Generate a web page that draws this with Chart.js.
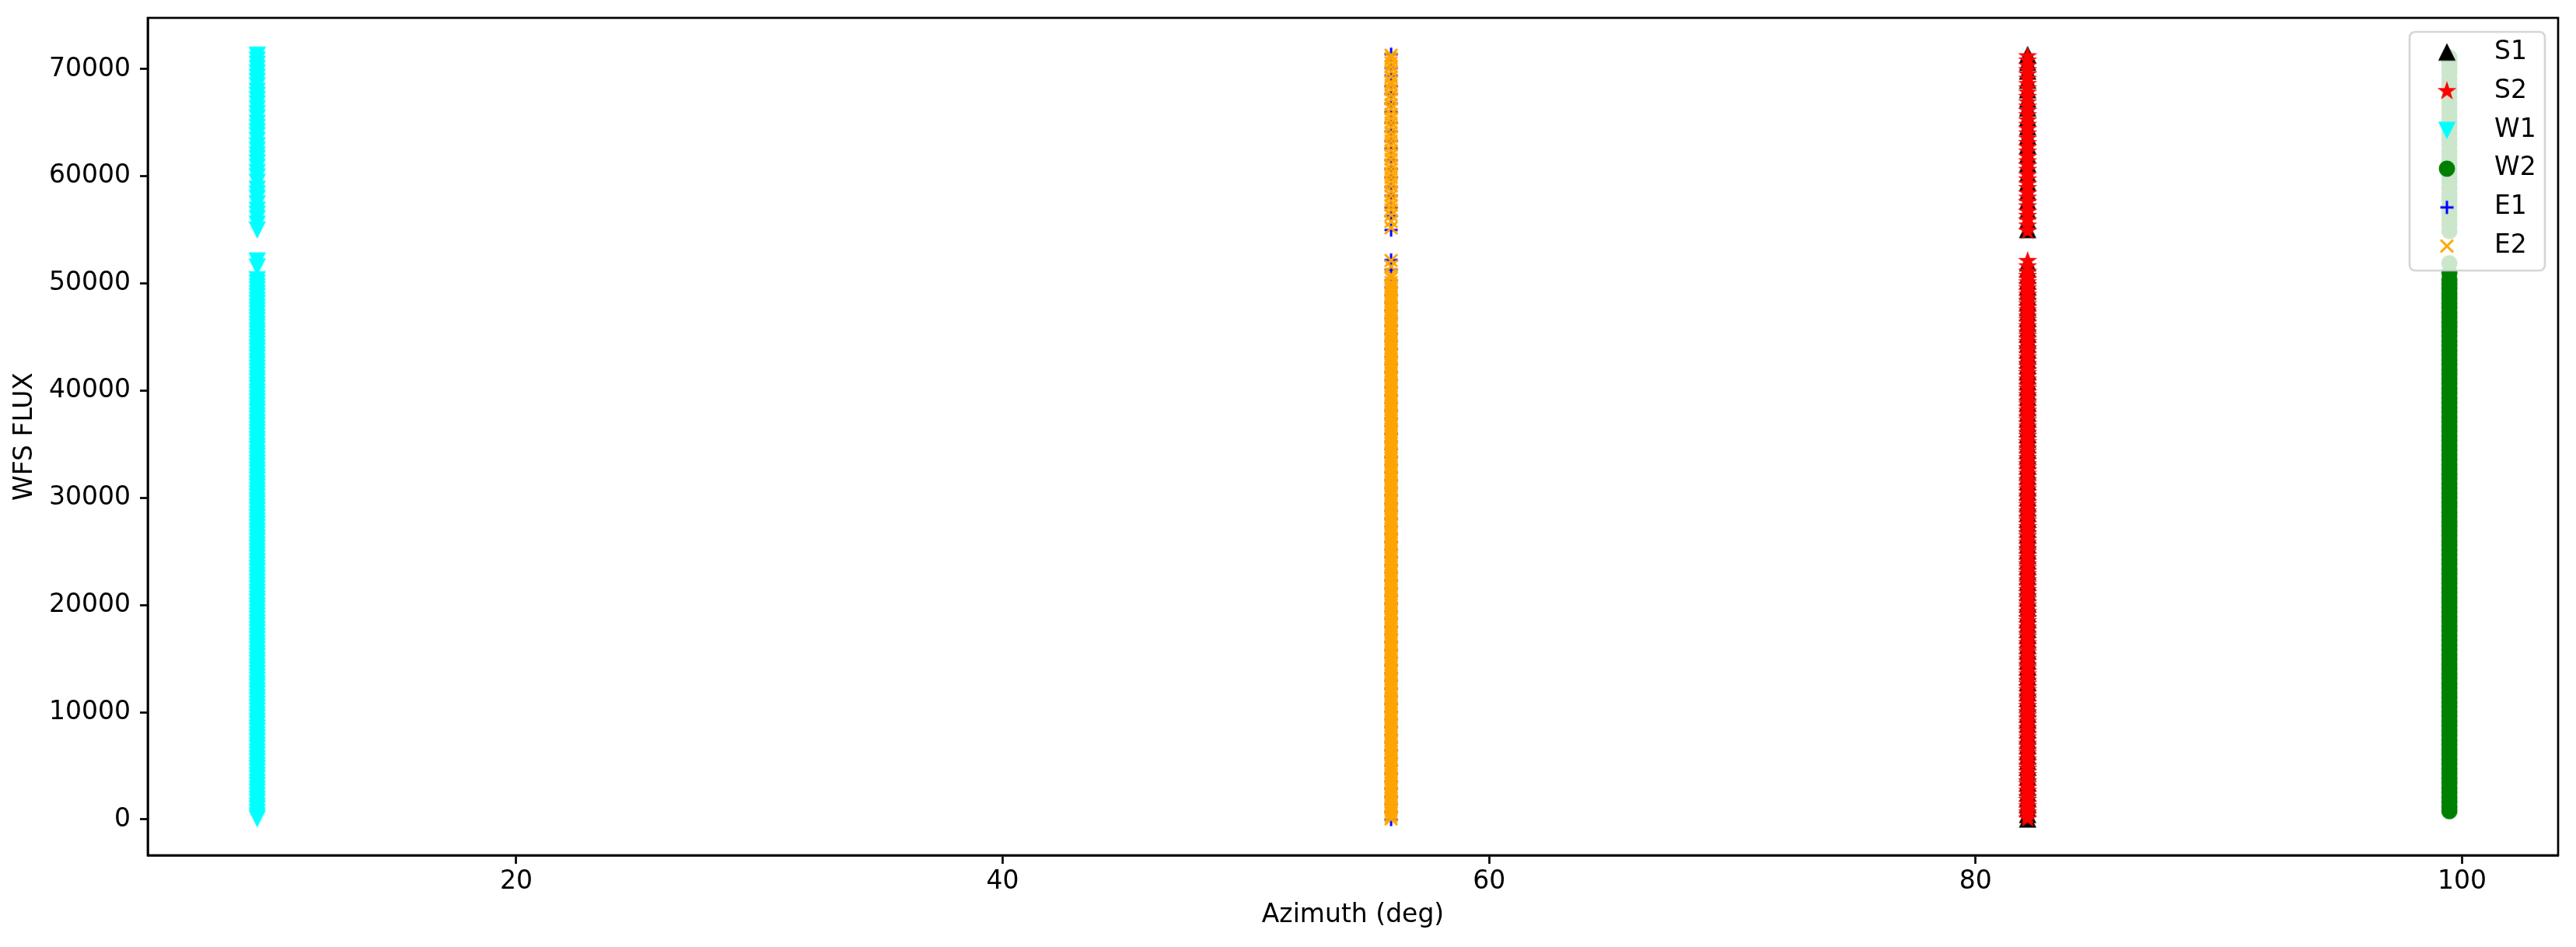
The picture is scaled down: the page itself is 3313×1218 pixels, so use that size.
<!DOCTYPE html>
<html>
<head>
<meta charset="utf-8">
<script src="https://cdn.jsdelivr.net/npm/chart.js@4.4.1/dist/chart.umd.min.js"></script>
<style>
  html, body { margin: 0; padding: 0; background: #ffffff; }
</style>
</head>
<body>
<canvas id="fluxChart" width="3313" height="1218"></canvas>
<script>
// series, in the order they were plotted (last one ends up on top)
var seriesNames = ["S1", "S2", "W1", "W2", "E1", "E2"];
var seriesColors = ["#000000", "#ff0000", "#00ffff", "#008000", "#0000ff", "#ffa500"];
var seriesShapes = ["triangleUp", "star", "triangleDown", "circle", "plus", "cross"];
// azimuth (deg) of each wavefront sensor
var seriesAzimuth = [82.14, 82.14, 9.35, 99.48, 55.97, 55.97];

// WFS flux readings
var fluxS1 = [0, 430, 980, 1420, 1960, 2410, 2930, 3390, 3920, 4380, 4870, 5360, 5860, 6340, 6850, 7320, 7840,
  8310, 8820, 9300, 9810, 10280, 10790, 11270, 11780, 12250, 12760, 13240, 13750, 14220, 14730, 15210, 15720,
  16190, 16700, 17180, 17690, 18160, 18670, 19150, 19660, 20130, 20640, 21120, 21630, 22100, 22610, 23090,
  23600, 24070, 24580, 25060, 25570, 26040, 26550, 27030, 27540, 28010, 28520, 29000, 29510, 29980, 30490,
  30970, 31480, 31950, 32460, 32940, 33450, 33920, 34430, 34910, 35420, 35890, 36400, 36880, 37390, 37860,
  38370, 38850, 39360, 39830, 40340, 40820, 41330, 41800, 42310, 42790, 43300, 43770, 44280, 44760, 45270,
  45740, 46250, 46730, 47240, 47710, 48220, 48700, 49210, 49680, 50190, 50700, 51300, 51900,
  55000, 55820, 56760, 57640, 58490, 59380, 60210, 61130, 61960, 62840, 63710, 64580, 65420, 66330, 67160,
  68040, 68930, 69780, 70600, 71300];
var fluxS2 = [80, 360, 650, 910, 1230, 1500, 1810, 2090, 2390, 2680, 2960, 3280, 3550, 3860, 4140, 4440, 4730,
  5010, 5330, 5600, 5910, 6190, 6490, 6780, 7060, 7380, 7650, 7960, 8240, 8540, 8830, 9110, 9430, 9700, 10010,
  10290, 10590, 10880, 11160, 11480, 11750, 12060, 12340, 12640, 12930, 13210, 13530, 13800, 14110, 14390,
  14690, 14980, 15260, 15580, 15850, 16160, 16440, 16740, 17030, 17310, 17630, 17900, 18210, 18490, 18790,
  19080, 19360, 19680, 19950, 20260, 20540, 20840, 21130, 21410, 21730, 22000, 22310, 22590, 22890, 23180,
  23460, 23780, 24050, 24360, 24640, 24940, 25230, 25510, 25830, 26100, 26410, 26690, 26990, 27280, 27560,
  27880, 28150, 28460, 28740, 29040, 29330, 29610, 29930, 30200, 30510, 30790, 31090, 31380, 31660, 31980,
  32250, 32560, 32840, 33140, 33430, 33710, 34030, 34300, 34610, 34890, 35190, 35480, 35760, 36080, 36350,
  36660, 36940, 37240, 37530, 37810, 38130, 38400, 38710, 38990, 39290, 39580, 39860, 40180, 40450, 40760,
  41040, 41340, 41630, 41910, 42230, 42500, 42810, 43090, 43390, 43680, 43960, 44280, 44550, 44860, 45140,
  45440, 45730, 46010, 46330, 46600, 46910, 47190, 47490, 47780, 48060, 48380, 48650, 48960, 49240, 49540,
  49830, 50110, 50430, 50700, 51100, 51600, 52100,
  54900, 55400, 55900, 56300, 56700, 57200, 57600, 58000, 58400, 58900, 59300, 59700, 60100, 60600, 61000,
  61400, 61800, 62300, 62700, 63100, 63500, 64000, 64400, 64800, 65200, 65700, 66100, 66500, 66900, 67400,
  67800, 68200, 68600, 69100, 69500, 69900, 70300, 70800, 71200];
var fluxW1 = [120, 380, 700, 1020, 1290, 1650, 1930, 2260, 2580, 2870, 3210, 3500, 3860, 4150, 4470, 4790, 5080,
  5420, 5710, 6060, 6350, 6690, 6980, 7320, 7630, 7940, 8270, 8560, 8910, 9200, 9540, 9830, 10170, 10480,
  10790, 11120, 11410, 11760, 12050, 12390, 12680, 13020, 13330, 13640, 13970, 14260, 14610, 14900, 15240,
  15530, 15870, 16180, 16490, 16820, 17110, 17460, 17750, 18090, 18380, 18720, 19030, 19340, 19670, 19960,
  20310, 20600, 20940, 21230, 21570, 21880, 22190, 22520, 22810, 23160, 23450, 23790, 24080, 24420, 24730,
  25040, 25370, 25660, 26010, 26300, 26640, 26930, 27270, 27580, 27890, 28220, 28510, 28860, 29150, 29490,
  29780, 30120, 30430, 30740, 31070, 31360, 31710, 32000, 32340, 32630, 32970, 33280, 33590, 33920, 34210,
  34560, 34850, 35190, 35480, 35820, 36130, 36440, 36770, 37060, 37410, 37700, 38040, 38330, 38670, 38980,
  39290, 39620, 39910, 40260, 40550, 40890, 41180, 41520, 41830, 42140, 42470, 42760, 43110, 43400, 43740,
  44030, 44370, 44680, 44990, 45320, 45610, 45960, 46250, 46590, 46880, 47220, 47530, 47840, 48170, 48460,
  48810, 49100, 49440, 49730, 50070, 50400, 51600, 52150,
  55050, 55600, 56100, 56500, 56900, 57500, 58000, 58400, 58850, 59500, 60000, 60400, 60900, 61300, 61700,
  62050, 62500, 62900, 63400, 63850, 64200, 64600, 65000, 65500, 65900, 66350, 66800, 67200, 67600, 68000,
  68500, 68900, 69300, 69700, 70100, 70500, 70900, 71350];
var fluxW2 = [780, 1180, 1650, 2060, 2540, 2950, 3420, 3840, 4310, 4720, 5200, 5610, 6080, 6500, 6970, 7380,
  7860, 8270, 8740, 9160, 9630, 10040, 10520, 10930, 11400, 11820, 12290, 12700, 13180, 13590, 14060, 14480,
  14950, 15360, 15840, 16250, 16720, 17140, 17610, 18020, 18500, 18910, 19380, 19800, 20270, 20680, 21160,
  21570, 22040, 22460, 22930, 23340, 23820, 24230, 24700, 25120, 25590, 26000, 26480, 26890, 27360, 27780,
  28250, 28660, 29140, 29550, 30020, 30440, 30910, 31320, 31800, 32210, 32680, 33100, 33570, 33980, 34460,
  34870, 35340, 35760, 36230, 36640, 37120, 37530, 38000, 38420, 38890, 39300, 39780, 40190, 40660, 41080,
  41550, 41960, 42440, 42850, 43320, 43740, 44210, 44620, 45100, 45510, 45980, 46400, 46870, 47280, 47760,
  48170, 48640, 49060, 49530, 49950, 50350, 51000, 51900,
  54900, 55500, 56100, 56600, 57200, 57800, 58300, 58900, 59500, 60000, 60600, 61200, 61700, 62300, 62900,
  63400, 64000, 64600, 65100, 65700, 66300, 66800, 67400, 68000, 68500, 69100, 69700, 70200, 70700, 71100];
var fluxE1 = [0, 690, 1420, 2130, 2870, 3560, 4300, 5010, 5740, 6450, 7180, 7890, 8620, 9330, 10060, 10770,
  11500, 12210, 12940, 13650, 14380, 15090, 15820, 16530, 17260, 17970, 18700, 19410, 20140, 20850, 21580,
  22290, 23020, 23730, 24460, 25170, 25900, 26610, 27340, 28050, 28780, 29490, 30220, 30930, 31660, 32370,
  33100, 33810, 34540, 35250, 35980, 36690, 37420, 38130, 38860, 39570, 40300, 41010, 41740, 42450, 43180,
  43890, 44620, 45330, 46060, 46770, 47500, 48210, 48940, 49650, 50300, 51300, 52200,
  55000, 56300, 57100, 58200, 59000, 59900, 60700, 61500, 62600, 63300, 64200, 65000, 66000, 66800, 67700,
  68400, 69400, 70100, 71400];
var fluxE2 = [60, 320, 590, 850, 1140, 1400, 1680, 1950, 2230, 2490, 2780, 3040, 3320, 3590, 3870, 4130, 4420,
  4680, 4960, 5230, 5510, 5770, 6060, 6320, 6600, 6870, 7150, 7410, 7700, 7960, 8240, 8510, 8790, 9050, 9340,
  9600, 9880, 10150, 10430, 10690, 10980, 11240, 11520, 11790, 12070, 12330, 12620, 12880, 13160, 13430,
  13710, 13970, 14260, 14520, 14800, 15070, 15350, 15610, 15900, 16160, 16440, 16710, 16990, 17250, 17540,
  17800, 18080, 18350, 18630, 18890, 19180, 19440, 19720, 19990, 20270, 20530, 20820, 21080, 21360, 21630,
  21910, 22170, 22460, 22720, 23000, 23270, 23550, 23810, 24100, 24360, 24640, 24910, 25190, 25450, 25740,
  26000, 26280, 26550, 26830, 27090, 27380, 27640, 27920, 28190, 28470, 28730, 29020, 29280, 29560, 29830,
  30110, 30370, 30660, 30920, 31200, 31470, 31750, 32010, 32300, 32560, 32840, 33110, 33390, 33650, 33940,
  34200, 34480, 34750, 35030, 35290, 35580, 35840, 36120, 36390, 36670, 36930, 37220, 37480, 37760, 38030,
  38310, 38570, 38860, 39120, 39400, 39670, 39950, 40210, 40500, 40760, 41040, 41310, 41590, 41850, 42140,
  42400, 42680, 42950, 43230, 43490, 43780, 44040, 44320, 44590, 44870, 45130, 45420, 45680, 45960, 46230,
  46510, 46770, 47060, 47320, 47600, 47870, 48150, 48410, 48700, 48960, 49240, 49510, 49790, 50100, 50500,
  50800, 51600, 52150,
  55200, 55800, 56400, 56900, 57300, 57700, 58200, 58600, 59100, 59500, 59900, 60300, 60700, 61100, 61600,
  62000, 62400, 62900, 63300, 63700, 64100, 64600, 65000, 65400, 65800, 66300, 66700, 67200, 67600, 68100,
  68500, 68800, 69300, 69800, 70200, 70600, 71000, 71300];
var seriesFlux = [fluxS1, fluxS2, fluxW1, fluxW2, fluxE1, fluxE2];

// axes
var xMin = 4.85, xMax = 103.95;
var yMin = -3337, yMax = 74787;
var xTickValues = [20, 40, 60, 80, 100];
var yTickValues = [0, 10000, 20000, 30000, 40000, 50000, 60000, 70000];
var xTitle = "Azimuth (deg)";
var yTitle = "WFS FLUX";

var FONT = "DejaVu Sans";

// matplotlib style markers drawn on small canvases
function makeMarker(shape, color) {
  var c = document.createElement("canvas");
  c.width = 32;
  c.height = 32;
  var g = c.getContext("2d");
  g.translate(16, 16);
  g.fillStyle = color;
  g.strokeStyle = color;
  g.lineWidth = 2.5;
  g.beginPath();
  if (shape == "triangleUp" || shape == "triangleDown") {
    var s = shape == "triangleUp" ? 1 : -1;
    g.moveTo(0, -9.2 * s);
    g.lineTo(-9.2, 9.2 * s);
    g.lineTo(9.2, 9.2 * s);
    g.closePath();
    g.fill();
    g.stroke();
  } else if (shape == "circle") {
    g.arc(0, 0, 9.2, 0, Math.PI * 2);
    g.fill();
    g.stroke();
  } else if (shape == "star") {
    for (var k = 0; k < 10; k++) {
      var r = k % 2 == 0 ? 9 : 9 * 0.381966;
      var ang = -Math.PI / 2 + k * Math.PI / 5;
      if (k == 0) g.moveTo(r * Math.cos(ang), r * Math.sin(ang));
      else g.lineTo(r * Math.cos(ang), r * Math.sin(ang));
    }
    g.closePath();
    g.fill();
    g.stroke();
  } else if (shape == "plus") {
    g.lineWidth = 3;
    g.moveTo(-8.5, 0); g.lineTo(8.5, 0);
    g.moveTo(0, -8.5); g.lineTo(0, 8.5);
    g.stroke();
  } else if (shape == "cross") {
    g.lineWidth = 3;
    g.moveTo(-8, -8); g.lineTo(8, 8);
    g.moveTo(-8, 8); g.lineTo(8, -8);
    g.stroke();
  }
  return c;
}

var markers = seriesShapes.map(function (shape, i) {
  return makeMarker(shape, seriesColors[i]);
});

// build the datasets
var datasets = [];
for (var i = 0; i < seriesNames.length; i++) {
  var pts = [];
  for (var j = 0; j < seriesFlux[i].length; j++) {
    pts.push({ x: seriesAzimuth[i], y: seriesFlux[i][j] });
  }
  datasets.push({
    label: seriesNames[i],
    data: pts,
    pointStyle: markers[i],
    pointRadius: 10,
    backgroundColor: seriesColors[i],
    borderColor: seriesColors[i],
    order: seriesNames.length - i,
  });
}

// frame around the axes + matplotlib like legend box
var frameAndLegend = {
  id: "frameAndLegend",
  afterDatasetsDraw: function (chart) {
    var ctx = chart.ctx;
    var a = chart.chartArea;
    ctx.save();
    ctx.strokeStyle = "#000000";
    ctx.lineWidth = 2.7;
    ctx.strokeRect(a.left, a.top, a.right - a.left, a.bottom - a.top);

    var w = 174, h = 307, rad = 7;
    var x0 = a.right - 17 - w;
    var y0 = a.top + 18;
    ctx.beginPath();
    ctx.moveTo(x0 + rad, y0);
    ctx.lineTo(x0 + w - rad, y0);
    ctx.arcTo(x0 + w, y0, x0 + w, y0 + rad, rad);
    ctx.lineTo(x0 + w, y0 + h - rad);
    ctx.arcTo(x0 + w, y0 + h, x0 + w - rad, y0 + h, rad);
    ctx.lineTo(x0 + rad, y0 + h);
    ctx.arcTo(x0, y0 + h, x0, y0 + h - rad, rad);
    ctx.lineTo(x0, y0 + rad);
    ctx.arcTo(x0, y0, x0 + rad, y0, rad);
    ctx.closePath();
    ctx.fillStyle = "rgba(255,255,255,0.8)";
    ctx.fill();
    ctx.lineWidth = 2.7;
    ctx.strokeStyle = "rgba(204,204,204,0.8)";
    ctx.stroke();

    ctx.font = "33px '" + FONT + "'";
    ctx.textBaseline = "middle";
    ctx.textAlign = "left";
    ctx.fillStyle = "#000000";
    for (var i = 0; i < seriesNames.length; i++) {
      var cy = y0 + 26.5 + i * 49.8;
      var m = markers[i];
      ctx.drawImage(m, x0 + 48 - m.width / 2, cy - m.height / 2);
      ctx.fillText(seriesNames[i], x0 + 109, cy);
    }
    ctx.restore();
  },
};

var tickFont = { family: FONT, size: 33 };

new Chart(document.getElementById("fluxChart"), {
  type: "scatter",
  data: { datasets: datasets },
  options: {
    responsive: false,
    animation: false,
    devicePixelRatio: 1,
    layout: { padding: { top: 23, right: 23, left: 0, bottom: 0 } },
    plugins: {
      legend: { display: false },
      tooltip: { enabled: false },
    },
    scales: {
      x: {
        type: "linear",
        min: xMin,
        max: xMax,
        afterBuildTicks: function (scale) {
          scale.ticks = xTickValues.map(function (v) { return { value: v }; });
        },
        afterFit: function (scale) {
          scale.height = 118;
          scale.paddingLeft = 0;
          scale.paddingRight = 0;
        },
        grid: { drawOnChartArea: false, drawTicks: true, tickLength: 11, tickWidth: 2.7, tickColor: "#000000" },
        border: { display: true, color: "#000000", width: 2.7 },
        ticks: {
          color: "#000000",
          font: tickFont,
          padding: 4,
          maxRotation: 0,
          autoSkip: false,
          callback: function (v) { return String(v); },
        },
        title: { display: true, text: xTitle, color: "#000000", font: tickFont, padding: { top: 0, bottom: 21 } },
      },
      y: {
        type: "linear",
        min: yMin,
        max: yMax,
        afterBuildTicks: function (scale) {
          scale.ticks = yTickValues.map(function (v) { return { value: v }; });
        },
        afterFit: function (scale) {
          scale.width = 190;
          // let the axes box start right under the layout padding
          scale.paddingTop = 0;
          scale.paddingBottom = 0;
        },
        grid: { drawOnChartArea: false, drawTicks: true, tickLength: 10, tickWidth: 2.7, tickColor: "#000000" },
        border: { display: true, color: "#000000", width: 2.7 },
        ticks: {
          color: "#000000",
          font: tickFont,
          padding: 12,
          autoSkip: false,
          callback: function (v) { return String(v); },
        },
        title: { display: true, text: yTitle, color: "#000000", font: tickFont, padding: { top: 13, bottom: 0 } },
      },
    },
  },
  plugins: [frameAndLegend],
});
</script>
</body>
</html>
